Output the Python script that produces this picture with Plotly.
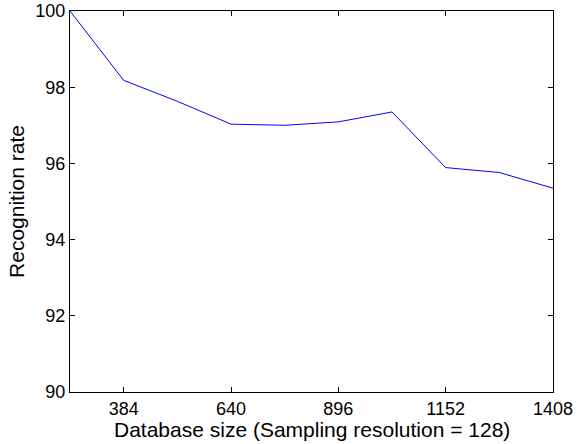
import plotly.graph_objects as go

db_size = [256, 384, 512, 640, 768, 896, 1024, 1152, 1280, 1408]
recognition_rate = [100.0, 98.18, 97.63, 97.03, 97.0, 97.09, 97.35, 95.89, 95.76, 95.35]
x_ticks = [384, 640, 896, 1152, 1408]
y_ticks = [90, 92, 94, 96, 98, 100]
x_title = "Database size (Sampling resolution = 128)"
y_title = "Recognition rate"

fig = go.Figure()
fig.add_trace(go.Scatter(x=db_size, y=recognition_rate, mode="lines",
                         line=dict(color="#0000ff", width=1)))

tick_font = dict(family="Liberation Sans, Arial, Helvetica, sans-serif", size=18, color="black")
title_font = dict(family="Liberation Sans, Arial, Helvetica, sans-serif", size=21, color="black")
axis_common = dict(showgrid=False, zeroline=False, showline=True, mirror="ticks",
                   linecolor="black", linewidth=1, ticks="inside", ticklen=5,
                   tickcolor="black", tickfont=tick_font, automargin=False)

fig.update_layout(
    width=579, height=444,
    margin=dict(l=70, r=26, t=11, b=52),
    paper_bgcolor="white", plot_bgcolor="white",
    showlegend=False,
    font=tick_font,
    xaxis=dict(range=[256, 1408], tickvals=x_ticks, ticktext=[str(v) for v in x_ticks],
               **axis_common),
    yaxis=dict(range=[90, 100], tickvals=y_ticks, ticktext=[str(v) for v in y_ticks],
               title=dict(text=y_title, font=title_font, standoff=5),
               **axis_common),
    annotations=[dict(text=x_title, xref="paper", yref="paper", x=0.5, y=0,
                      xanchor="center", yanchor="top", yshift=-25,
                      showarrow=False, font=title_font, borderpad=0)],
)

fig.write_html("out.html")
